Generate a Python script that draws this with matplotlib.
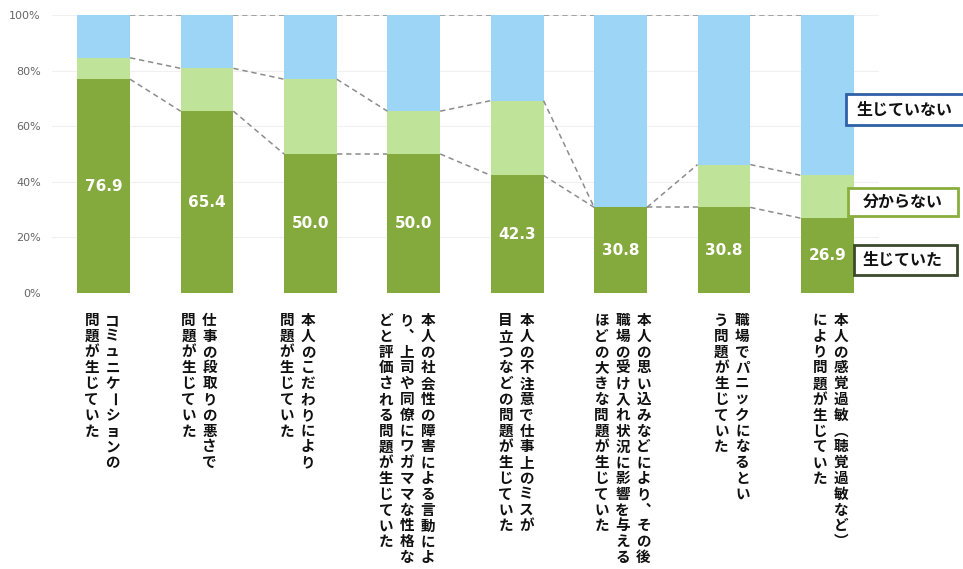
import matplotlib.pyplot as plt
from matplotlib.patches import Rectangle

plt.rcParams['font.family'] = ['Noto Sans CJK JP', 'DejaVu Sans']

# label columns, read right to left (vertical writing)
labels = [
    ["コミュニケーションの", "問題が生じていた"],
    ["仕事の段取りの悪さで", "問題が生じていた"],
    ["本人のこだわりにより", "問題が生じていた"],
    ["本人の社会性の障害による言動によ", "り、上司や同僚にワガママな性格な", "どと評価される問題が生じていた"],
    ["本人の不注意で仕事上のミスが", "目立つなどの問題が生じていた"],
    ["本人の思い込みなどにより、その後", "職場の受け入れ状況に影響を与える", "ほどの大きな問題が生じていた"],
    ["職場でパニックになるとい", "う問題が生じていた"],
    ["本人の感覚過敏（聴覚過敏など）", "により問題が生じていた"],
]
occurred = [76.9, 65.4, 50.0, 50.0, 42.3, 30.8, 30.8, 26.9]
unknown = [7.7, 15.4, 26.9, 15.4, 26.9, 0.0, 15.4, 15.4]
not_occurred = [15.4, 19.2, 23.1, 34.6, 30.8, 69.2, 53.8, 57.7]
yticks = [0, 20, 40, 60, 80, 100]

c_occ = '#84a93c'
c_unk = '#c0e39a'
c_not = '#9dd5f7'

W, H = 963, 569
fig = plt.figure(figsize=(W / 100, H / 100), dpi=100)
ax = fig.add_axes([52 / W, (H - 293) / H, 827 / W, 278 / H])

x = list(range(len(occurred)))
bw = 0.51
lev1 = occurred
lev2 = [a + b for a, b in zip(occurred, unknown)]
ax.bar(x, occurred, bw, color=c_occ, zorder=2)
ax.bar(x, unknown, bw, bottom=lev1, color=c_unk, zorder=2)
ax.bar(x, not_occurred, bw, bottom=lev2, color=c_not, zorder=2)

# series lines between neighbouring bars
lev3 = [a + b for a, b in zip(lev2, not_occurred)]
for lev in (lev1, lev2, lev3):
    for i in range(len(x) - 1):
        ax.plot([x[i] + bw / 2, x[i + 1] - bw / 2], [lev[i], lev[i + 1]],
                color='#8c8c8c', lw=1.1, ls=(0, (3.5, 2.5)), zorder=3)

for i, v in enumerate(occurred):
    ax.text(x[i], v / 2, f"{v:.1f}", ha='center', va='center', color='white',
            fontsize=11, fontweight='bold', family='DejaVu Sans', zorder=4)

ax.set_xlim(-0.5, 7.5)
ax.set_ylim(0, 100)
ax.set_yticks(yticks)
ax.set_yticklabels([f"{t}%" for t in yticks], family='DejaVu Sans',
                   fontsize=8, color='#666666')
ax.tick_params(axis='y', length=0, pad=8)
ax.set_xticks([])
ax.grid(axis='y', color='#f0f0f0', lw=0.8, zorder=0)
for s in ax.spines.values():
    s.set_visible(False)

# vertical category labels, drawn character by character
to_fig = ax.transData + fig.transFigure.inverted()
vertical_forms = {"（": "︵", "）": "︶", "、": "︑"}
label_shift = [-1.5, -8, -13, -7, -1, 2, 8, 3]
col_gap = 21
char_step = 15.8
top_px = 320
for i, cols in enumerate(labels):
    cx = to_fig.transform((x[i], 0))[0] * W + label_shift[i]
    n = len(cols)
    for j, col in enumerate(cols):
        px = cx + (n - 1) / 2 * col_gap - j * col_gap
        for k, ch in enumerate(col):
            py = top_px + k * char_step
            rot = -90 if ch == "ー" else 0
            fig.text(px / W, 1 - py / H, vertical_forms.get(ch, ch),
                     ha='center', va='center', fontsize=10.5, fontweight='bold',
                     rotation=rot, color='#111111')

# legend boxes
legend = [
    ("生じていない", (846, 94, 122, 31), '#3060a8', 905),
    ("分からない", (848, 188, 110, 28), '#8aae3c', 903),
    ("生じていた", (854, 245, 103, 30), '#3b4a2a', 903),
]
for txt, (lx, ly, lw, lh), ec, tx in legend:
    fig.patches.append(Rectangle((lx / W, 1 - (ly + lh) / H), lw / W, lh / H,
                                 transform=fig.transFigure, facecolor='white',
                                 edgecolor=ec, lw=2, zorder=5))
    fig.text(tx / W, 1 - (ly + lh / 2) / H, txt, ha='center', va='center',
             fontsize=11.5, fontweight='bold', color='#111111', zorder=6)

fig.savefig('out.png', dpi=100, facecolor='white')
